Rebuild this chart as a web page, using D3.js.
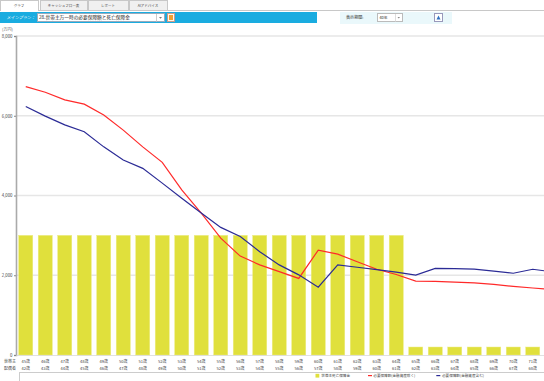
<!DOCTYPE html>
<html><head><meta charset="utf-8">
<script src="https://cdn.jsdelivr.net/npm/d3@7/dist/d3.min.js"></script>
<style>
html,body{margin:0;padding:0;background:#fff;overflow:hidden}
text{font-family:"Noto Sans CJK JP","Noto Sans",sans-serif}
</style></head>
<body>
<svg id="c" width="544" height="381"></svg>
<script>
const householdAges = ["45歳","46歳","47歳","48歳","49歳","50歳","51歳","52歳","53歳","54歳","55歳","56歳","57歳","58歳","59歳","60歳","61歳","62歳","63歳","64歳","65歳","66歳","67歳","68歳","69歳","70歳","71歳","72歳"];
const spouseAges = ["42歳","43歳","44歳","45歳","46歳","47歳","48歳","49歳","50歳","51歳","52歳","53歳","54歳","55歳","56歳","57歳","58歳","59歳","60歳","61歳","62歳","63歳","64歳","65歳","66歳","67歳","68歳","69歳"];
const deathBenefit = [3000,3000,3000,3000,3000,3000,3000,3000,3000,3000,3000,3000,3000,3000,3000,3000,3000,3000,3000,3000,200,200,200,200,200,200,200,200];
const needExclAssets = [6730,6590,6400,6290,6020,5640,5220,4830,4140,3560,2930,2480,2260,2090,1920,2630,2530,2340,2150,2020,1855,1845,1830,1810,1770,1720,1680,1640];
const needInclAssets = [6230,5990,5770,5600,5220,4890,4680,4310,3930,3560,3200,2970,2590,2260,2010,1700,2260,2200,2140,2080,2005,2170,2165,2155,2105,2050,2150,2085];
const yTicks = [0,2000,4000,6000,8000];
const tabs = ["グラフ","キャッシュフロー表","レポート","AIアドバイス"];
const legendNames = ["世帯主死亡保障金","必要保障額(金融資産除く)","必要保障額(金融資産含む)"];

const svg = d3.select("#c");
const F = "Noto Sans CJK JP";

// ---- tab bar ----
const tabX = [0,40,88,129], tabW = [38,47,40,38];
svg.append("line").attr("x1",0).attr("x2",544).attr("y1",10.5).attr("y2",10.5).attr("stroke","#c8c8c8");
tabs.forEach((t,i)=>{
  svg.append("rect").attr("x",tabX[i]+0.5).attr("y",0.5).attr("width",tabW[i]).attr("height",10)
    .attr("fill", i===0?"#fff":"#f0f0f0").attr("stroke","#c8c8c8");
  svg.append("text").attr("x",tabX[i]+tabW[i]/2).attr("y",6.8).attr("text-anchor","middle")
    .attr("font-size",3.5).attr("fill","#444").text(t);
});
svg.append("rect").attr("x",1).attr("y",10).attr("width",37).attr("height",1.5).attr("fill","#fff");

// ---- toolbar ----
svg.append("rect").attr("x",0).attr("y",12).attr("width",317).attr("height",11).attr("fill","#1aace0");
svg.append("text").attr("x",6.5).attr("y",19.3).attr("font-size",4.1).attr("fill","#fff").attr("font-style","italic").text("メインプラン：");
svg.append("rect").attr("x",37.5).attr("y",13.5).attr("width",127).attr("height",8).attr("fill","#fff").attr("stroke","#9ab");
svg.append("text").attr("x",39).attr("y",19.3).attr("font-size",4.7).attr("fill","#222").text("28.世帯主万一時の必要保障額と死亡保障金");
svg.append("line").attr("x1",156.5).attr("x2",156.5).attr("y1",14).attr("y2",21.5).attr("stroke","#ccc");
svg.append("path").attr("d","M159,17 L162,17 L160.5,18.8 Z").attr("fill","#777");
svg.append("rect").attr("x",167.5).attr("y",13.5).attr("width",7).attr("height",8).attr("fill","#fff8e8").attr("stroke","#c98");
svg.append("rect").attr("x",169).attr("y",15).attr("width",4).attr("height",5).attr("fill","#f0a030");

svg.append("rect").attr("x",340).attr("y",12).attr("width",112).attr("height",12).attr("fill","#eaf8fb");
svg.append("text").attr("x",346).attr("y",19.2).attr("font-size",4.1).attr("fill","#333").text("表示期間:");
svg.append("rect").attr("x",377.5).attr("y",13.5).attr("width",25).attr("height",8).attr("fill","#fff").attr("stroke","#bbb");
svg.append("text").attr("x",379.5).attr("y",19).attr("font-size",3.8).attr("fill","#222").text("40年");
svg.append("line").attr("x1",395.5).attr("x2",395.5).attr("y1",14).attr("y2",21.5).attr("stroke","#ddd");
svg.append("path").attr("d","M397.5,17 L400,17 L398.75,18.5 Z").attr("fill","#888");
svg.append("rect").attr("x",434.5).attr("y",13.5).attr("width",8).attr("height",8).attr("fill","#fff").attr("stroke","#99b");
svg.append("path").attr("d","M436.5,19.5 L438.5,15.5 L440.5,19.5 Z").attr("fill","#3070c0");

// ---- chart ----
const y = d3.scaleLinear().domain([0,8000]).range([355,36]);
const step = 19.5, x0 = 16;
const x = d3.scaleBand().domain(householdAges).range([x0, x0+householdAges.length*step]).paddingInner(0.28).paddingOuter(0.14);
const bw = x.bandwidth();

svg.append("defs").append("clipPath").attr("id","pc").append("rect").attr("x",x0).attr("y",30).attr("width",544-x0).attr("height",330);

// grid
svg.append("g").selectAll("line").data(yTicks.filter(d=>d>0)).join("line")
  .attr("x1",x0).attr("x2",544).attr("y1",d=>y(d)).attr("y2",d=>y(d))
  .attr("stroke","#e6e6e6").attr("stroke-width",1.5);

// y axis
const yAxis = d3.axisLeft(y).tickValues(yTicks).tickSize(2).tickFormat(d3.format(","));
const ga = svg.append("g").attr("transform",`translate(${x0},0)`).call(yAxis);
ga.select(".domain").attr("stroke","#aaa").attr("stroke-width",1.6);
ga.selectAll(".tick line").attr("stroke","#888");
ga.selectAll(".tick text").attr("font-size",4.3).attr("fill","#444").attr("font-family",F).attr("x",-3.5);
svg.append("text").attr("x",2).attr("y",31).attr("font-size",4.1).attr("fill","#666").text("(万円)");

const plot = svg.append("g").attr("clip-path","url(#pc)");
plot.selectAll("rect.bar").data(deathBenefit).join("rect").attr("class","bar")
  .attr("x",(d,i)=>x(householdAges[i])).attr("width",bw)
  .attr("y",d=>y(d)).attr("height",d=>y(0)-y(d))
  .attr("fill","#e0e03c").attr("stroke","#ecec80").attr("stroke-width",0.5);

const line = d3.line().x((d,i)=>x(householdAges[i])+bw/2).y(d=>y(d));
plot.append("path").datum(needExclAssets).attr("d",line).attr("fill","none").attr("stroke","#ff2a2a").attr("stroke-width",1.2);
plot.append("path").datum(needInclAssets).attr("d",line).attr("fill","none").attr("stroke","#2b2b96").attr("stroke-width",1.2);

// baseline
svg.append("line").attr("x1",x0).attr("x2",544).attr("y1",355.5).attr("y2",355.5).attr("stroke","#ccc").attr("stroke-width",0.6);

// x labels
const xl = svg.append("g");
householdAges.forEach((a,i)=>{
  const cx = x(a)+bw/2;
  if (cx > 544) return;
  xl.append("text").attr("x",cx).attr("y",362.8).attr("text-anchor","middle").attr("font-size",4).attr("fill","#444").text(a);
  xl.append("text").attr("x",cx).attr("y",370).attr("text-anchor","middle").attr("font-size",4).attr("fill","#444").text(spouseAges[i]);
});
svg.append("text").attr("x",4).attr("y",362.8).attr("font-size",4).attr("fill","#444").text("世帯主");
svg.append("text").attr("x",4).attr("y",370).attr("font-size",4).attr("fill","#444").text("配偶者");

// legend
svg.append("rect").attr("x",19.5).attr("y",372.5).attr("width",530).attr("height",12).attr("fill","#fff").attr("stroke","#ccc");
const lg = svg.append("g");
lg.append("rect").attr("x",315.5).attr("y",373.8).attr("width",3.8).attr("height",3.8).attr("fill","#e0e03c");
lg.append("text").attr("x",321.3).attr("y",377.2).attr("font-size",3.6).attr("fill","#444").text(legendNames[0]);
lg.append("rect").attr("x",368).attr("y",375).attr("width",4).attr("height",1.2).attr("fill","#ff2a2a");
lg.append("text").attr("x",373.3).attr("y",377.2).attr("font-size",3.6).attr("fill","#444").text(legendNames[1]);
lg.append("rect").attr("x",436.3).attr("y",375).attr("width",4).attr("height",1.2).attr("fill","#2b2b96");
lg.append("text").attr("x",442).attr("y",377.2).attr("font-size",3.6).attr("fill","#444").text(legendNames[2]);
</script>
</body></html>
